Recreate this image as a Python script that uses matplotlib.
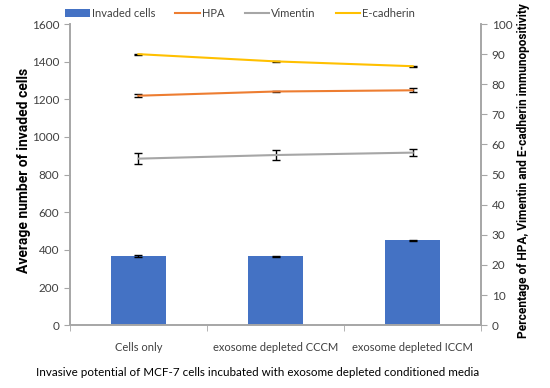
import numpy as np
import matplotlib.pyplot as plt

categories = ['Cells only', 'exosome depleted CCCM', 'exosome depleted ICCM']
invaded = [368, 365, 450]
invaded_err = [4, 4, 4]
hpa = [76.2, 77.6, 78.0]
hpa_err = [0.5, 0.3, 0.6]
vimentin = [55.3, 56.5, 57.3]
vimentin_err = [1.9, 1.7, 1.2]
ecad = [90.0, 87.6, 86.0]
ecad_err = [0.2, 0.2, 0.2]

plt.rcParams['font.family'] = ['Lato', 'DejaVu Sans']
grey = '#a6a6a6'
txt = '#404040'
bold_font = ['Liberation Sans Narrow', 'Roboto', 'DejaVu Sans']

fig = plt.figure(figsize=(5.5, 3.88), dpi=100)
ax = fig.add_axes([0.127, 0.162, 0.748, 0.776])
x = np.arange(len(categories))

bars = ax.bar(x, invaded, width=0.4, color='#4472c4', label='Invaded cells', zorder=2)
ax.errorbar(x, invaded, yerr=invaded_err, fmt='none', ecolor='black', capsize=3, lw=1, zorder=3)
ax.set_ylim(0, 1600)
ax.set_yticks(range(0, 1601, 200))
ax.set_xlim(-0.5, 2.5)
ax.set_xticks(x)
ax.set_xticklabels(categories)
ax.set_xticks([-0.5, 0.5, 1.5, 2.5], minor=True)
ax.tick_params(axis='x', which='major', length=0, pad=12)
ax.tick_params(axis='x', which='minor', length=4, color=grey)
ax.tick_params(axis='y', length=4, color=grey, labelsize=8.5, labelcolor=txt)
ax.tick_params(axis='x', labelsize=8, labelcolor=txt)
ax.set_ylabel('Average number of invaded cells', fontsize=10, fontweight='bold', color='black',
              family=bold_font)
ax.yaxis.set_label_coords(-0.095, 0.513)
ax.set_xlabel('Invasive potential of MCF-7 cells incubated with exosome depleted conditioned media',
              fontsize=8.4, color='black')
ax.xaxis.set_label_coords(0.457, -0.138)

ax2 = ax.twinx()
l1 = ax2.errorbar(x, hpa, yerr=hpa_err, color='#ed7d31', ecolor='black', capsize=3, lw=1.5, elinewidth=1, label='HPA')
l2 = ax2.errorbar(x, vimentin, yerr=vimentin_err, color=grey, ecolor='black', capsize=3, lw=1.5, elinewidth=1, label='Vimentin')
l3 = ax2.errorbar(x, ecad, yerr=ecad_err, color='#ffc000', ecolor='black', capsize=3, lw=1.5, elinewidth=1, label='E-cadherin')
ax2.set_ylim(0, 100)
ax2.set_yticks(range(0, 101, 10))
ax2.tick_params(axis='y', length=4, color=grey, labelsize=8.5, labelcolor=txt)
ax2.set_ylabel('Percentage of HPA, Vimentin and E-cadherin immunopositivity', fontsize=8.6,
               fontweight='bold', color='black', family=bold_font)
ax2.yaxis.set_label_coords(1.087, 0.512)

for a in (ax, ax2):
    a.spines['top'].set_visible(False)
    for s in ('left', 'right', 'bottom'):
        a.spines[s].set_color(grey)
        a.spines[s].set_linewidth(1.2)

handles = [bars, l1.lines[0], l2.lines[0], l3.lines[0]]
labels = ['Invaded cells', 'HPA', 'Vimentin', 'E-cadherin']
fig.legend(handles, labels, loc='upper center', bbox_to_anchor=(0.437, 1.005), ncol=4,
           frameon=False, fontsize=8, labelcolor=txt, handlelength=2.2, handletextpad=0.2,
           columnspacing=1.8)

fig.savefig('out.png', dpi=100)
